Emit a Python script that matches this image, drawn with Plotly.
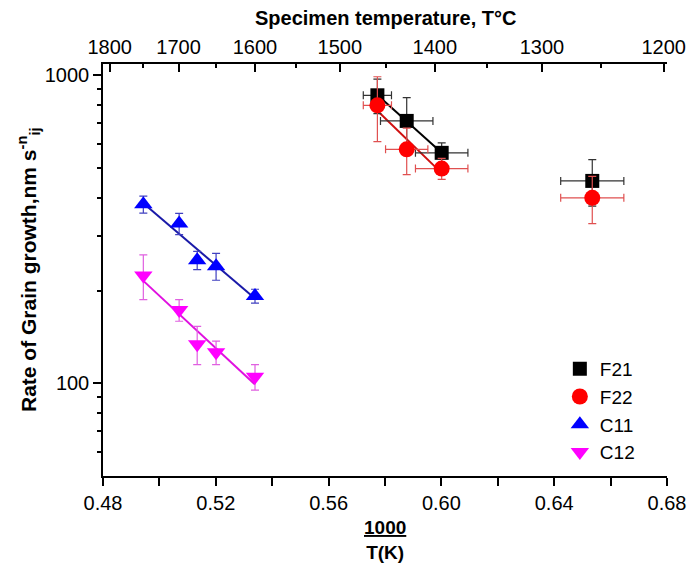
import numpy as np
import plotly.graph_objects as go

# ---------------- data ----------------
f21_x = [0.5773, 0.5877, 0.6001, 0.6535]
f21_y = [861, 711, 560, 454]
f21_yerr = [110, 135, 43, 78]
f21_xerr = [0.005, 0.0093, 0.0093, 0.0112]

f22_x = [0.5773, 0.5877, 0.6001, 0.6535]
f22_y = [799, 575, 498, 400]
f22_yerr = [190, 99, 39, 70]
f22_xerr = [0.005, 0.0075, 0.0093, 0.0112]

c11_x = [0.4943, 0.5070, 0.5134, 0.5201, 0.5339]
c11_y = [381, 330, 251, 240, 192]
c11_yerr = [24, 26, 17, 24, 10]

c12_x = [0.4943, 0.5070, 0.5134, 0.5201, 0.5339]
c12_y = [224, 173, 134, 126, 105]
c12_yerr = [37, 14, 19, 11, 10]

x_ticks = [0.48, 0.52, 0.56, 0.60, 0.64, 0.68]
x_ticklabels = ["0.48", "0.52", "0.56", "0.60", "0.64", "0.68"]
x_minor = [0.50, 0.54, 0.58, 0.62, 0.66]
top_temps = [1800, 1700, 1600, 1500, 1400, 1300, 1200]
top_minor_temps = [1750, 1650, 1550, 1450, 1350, 1250]
y_ticks = [100, 1000]
y_ticklabels = ["100", "1000"]
y_minor = [60, 70, 80, 90, 200, 300, 400, 500, 600, 700, 800, 900]

FONT = "Arial, Liberation Sans, sans-serif"

def fit_line(xs, ys):
    xs = np.array(xs); ly = np.log10(np.array(ys))
    p = np.polyfit(xs, ly, 1)
    xx = np.array([xs.min(), xs.max()])
    return xx, 10 ** np.polyval(p, xx)

fig = go.Figure()

# fit lines
for xs, ys, col in [(f21_x[:3], f21_y[:3], "#000000"),
                    (f22_x[:3], f22_y[:3], "#d01010"),
                    (c11_x, c11_y, "#1a1aa8"),
                    (c12_x, c12_y, "#e010e0")]:
    lx, ly = fit_line(xs, ys)
    fig.add_trace(go.Scatter(x=lx, y=ly, mode="lines", line=dict(color=col, width=2),
                             showlegend=False, hoverinfo="skip"))

fig.add_trace(go.Scatter(
    x=f21_x, y=f21_y, mode="markers", name="F21",
    marker=dict(symbol="square", size=14, color="#000000"),
    error_y=dict(type="data", array=f21_yerr, color="#333333", thickness=1.2, width=4),
    error_x=dict(type="data", array=f21_xerr, color="#333333", thickness=1.2, width=4),
))
fig.add_trace(go.Scatter(
    x=f22_x, y=f22_y, mode="markers", name="F22",
    marker=dict(symbol="circle", size=16, color="#ff0000"),
    error_y=dict(type="data", array=f22_yerr, color="#e05050", thickness=1.2, width=4),
    error_x=dict(type="data", array=f22_xerr, color="#e05050", thickness=1.2, width=4),
))
fig.add_trace(go.Scatter(
    x=c11_x, y=c11_y, mode="markers", name="C11",
    marker=dict(symbol="triangle-up", size=16, color="#0000ff"),
    error_y=dict(type="data", array=c11_yerr, color="#4040c0", thickness=1.2, width=4),
))
fig.add_trace(go.Scatter(
    x=c12_x, y=c12_y, mode="markers", name="C12",
    marker=dict(symbol="triangle-down", size=16, color="#ff00ff"),
    error_y=dict(type="data", array=c12_yerr, color="#e060e0", thickness=1.2, width=4),
))

# invisible trace for top axis
fig.add_trace(go.Scatter(x=[0.5, 0.6], y=[200, 200], xaxis="x2", mode="markers",
                         marker=dict(opacity=0), showlegend=False, hoverinfo="skip"))

top_vals = [1000.0 / (t + 273.15) for t in top_temps]
top_minor_vals = [1000.0 / (t + 273.15) for t in top_minor_temps]

TICKFONT = dict(size=20)

fig.update_layout(
    width=691, height=566,
    margin=dict(l=103, r=24, t=64, b=90, autoexpand=False),
    paper_bgcolor="white", plot_bgcolor="white",
    font=dict(family=FONT, size=18, color="black"),
    xaxis=dict(
        range=[0.48, 0.68], showgrid=False, zeroline=False, automargin=False,
        showline=True, linecolor="black", linewidth=1.5,
        tickmode="array", tickvals=x_ticks, ticktext=x_ticklabels,
        ticks="outside", ticklen=8, tickwidth=1.5, tickcolor="black",
        minor=dict(tickmode="array", tickvals=x_minor,
                   ticks="outside", ticklen=8, tickwidth=1.5, tickcolor="black"),
        tickfont=TICKFONT, mirror=False,
    ),
    xaxis2=dict(
        range=[0.48, 0.68], overlaying="x", side="top", anchor="y", automargin=False,
        showgrid=False, zeroline=False,
        showline=True, linecolor="black", linewidth=1.5,
        tickmode="array", tickvals=top_vals, ticktext=[str(t) for t in top_temps],
        ticks="inside", ticklen=8, tickwidth=1.5, tickcolor="black",
        minor=dict(tickmode="array", tickvals=top_minor_vals,
                   ticks="inside", ticklen=4, tickwidth=1.5, tickcolor="black"),
        tickfont=TICKFONT,
    ),
    yaxis=dict(
        type="log", range=[np.log10(50), np.log10(1088)], automargin=False,
        showgrid=False, zeroline=False,
        showline=True, linecolor="black", linewidth=1.5,
        tickmode="array", tickvals=y_ticks, ticktext=y_ticklabels,
        ticks="outside", ticklen=8, tickwidth=1.5, tickcolor="black",
        minor=dict(tickmode="array", tickvals=y_minor,
                   ticks="outside", ticklen=4, tickwidth=1.5, tickcolor="black"),
        tickfont=TICKFONT,
    ),
    legend=dict(
        x=0.81, y=0.306, xanchor="left", yanchor="top",
        bgcolor="rgba(0,0,0,0)", font=dict(size=19),
        tracegroupgap=0, itemwidth=30,
    ),
    showlegend=True,
)

fig.add_annotation(text="<b>Specimen temperature, T°C</b>", xref="paper", yref="paper",
                   x=0.5, y=(476 - 18) / 412, xanchor="center", yanchor="middle",
                   showarrow=False, font=dict(size=20))
fig.add_annotation(text="<b><u>1000</u></b><br><b>T(K)</b>", xref="paper", yref="paper",
                   x=0.5, y=(476 - 540) / 412, xanchor="center", yanchor="middle",
                   showarrow=False, font=dict(size=19))
fig.add_annotation(text="<b>Rate of Grain growth,nm s<sup>-n</sup><sub>ij</sub></b>",
                   xref="paper", yref="paper", textangle=-90,
                   x=(28 - 103) / 564, y=0.5, xanchor="center", yanchor="middle",
                   showarrow=False, font=dict(size=21))

fig.write_html("out.html")
